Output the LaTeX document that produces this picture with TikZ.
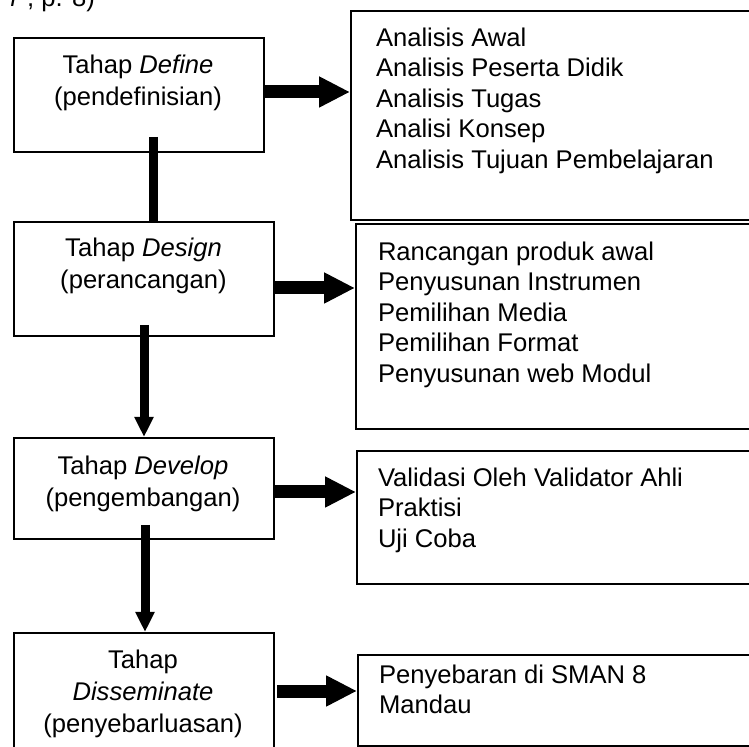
\documentclass[tikz,border=0pt]{standalone}
\usepackage{fontspec}
\setmainfont{Liberation Sans}
\usetikzlibrary{arrows.meta}

\begin{document}
\begin{tikzpicture}[x=0.5pt,y=-0.5pt,line width=1pt,
  every node/.style={font=\fontsize{12.8}{16}\selectfont,inner sep=0pt},
  stage/.style={draw,anchor=north west,minimum width=130pt,minimum height=57pt},
  stagetext/.style={anchor=north,align=center},
  listbox/.style={draw,anchor=north west},
  listtext/.style={anchor=north west,align=left,font=\fontsize{12.8}{15.25}\selectfont},
  fatarrow/.style={line width=6.5pt,-{Triangle[length=15.5pt,width=14.5pt]}},
  downarrow/.style={line width=4.5pt,-{Triangle[length=10pt,width=9pt]}}]
\useasboundingbox (0,0) rectangle (749,747);
\clip (0,0) rectangle (749,747);
\node (source) [anchor=base east] at (96,7) {\textit{r} , p. 8)};  % cut off by the top edge
% stages
\node (define) [stage,minimum width=125pt] at (13,37) {};
\node (design) [stage] at (13,221) {};
\node (develop) [stage,minimum height=50.5pt] at (13,437) {};
\node (dissem) [stage,minimum height=70pt] at (13,632) {};
\node (defineText) [stagetext] at (138,53.5) {Tahap \textit{Define}\\(pendefinisian)};
\node (designText) [stagetext] at (143.5,236.5) {Tahap \textit{Design}\\(perancangan)};
\node (developText) [stagetext] at (143,454.5) {Tahap \textit{Develop}\\(pengembangan)};
\node (dissemText) [stagetext] at (143,648.5) {Tahap\\\textit{Disseminate}\\(penyebarluasan)};
% activities of each stage
\node (analisis) [listbox,minimum width=205pt,minimum height=104.5pt] at (350,10) {};
\node (rancangan) [listbox,minimum width=203pt,minimum height=102.5pt] at (355,223) {};
\node (validasi) [listbox,minimum width=203pt,minimum height=66.5pt] at (356,450) {};
\node (sebaran) [listbox,minimum width=202pt,minimum height=45.5pt] at (357,654) {};
\node (analisisText) [listtext] at (375,26.5) {Analisis Awal\\Analisis Peserta Didik\\Analisis Tugas\\Analisi Konsep\\Analisis Tujuan Pembelajaran};
\node (rancanganText) [listtext] at (377,240.5) {Rancangan produk awal\\Penyusunan Instrumen\\Pemilihan Media\\Pemilihan Format\\Penyusunan web Modul};
\node (validasiText) [listtext] at (377,466.5) {Validasi Oleh Validator Ahli\\Praktisi\\Uji Coba};
\node (sebaranText) [listtext] at (378,663.5) {Penyebaran di SMAN 8\\Mandau};
% arrows to the right
\draw[fatarrow] ([yshift=1.5pt]define.east) -- ([yshift=1.5pt]define.east -| analisis.west);
\draw[fatarrow] ([yshift=-4.5pt]design.east) -- ([yshift=-4.5pt]design.east -| rancangan.west);
\draw[fatarrow] ([yshift=-1.75pt]develop.east) -- ([yshift=-1.75pt]develop.east -| validasi.west);
\draw[fatarrow] ([xshift=1pt,yshift=6pt]dissem.east) -- ([yshift=6pt]dissem.east -| sebaran.west);
% arrows down
\draw[line width=4.5pt] ([xshift=7pt,yshift=8pt]define.south) -- ([xshift=7pt]define.south |- design.north);
\draw[downarrow] ([yshift=6pt]design.south) -- (develop.north);
\draw[downarrow] ([xshift=0.5pt,yshift=7.5pt]develop.south) -- ([xshift=0.5pt]dissem.north);
\end{tikzpicture}
\end{document}
